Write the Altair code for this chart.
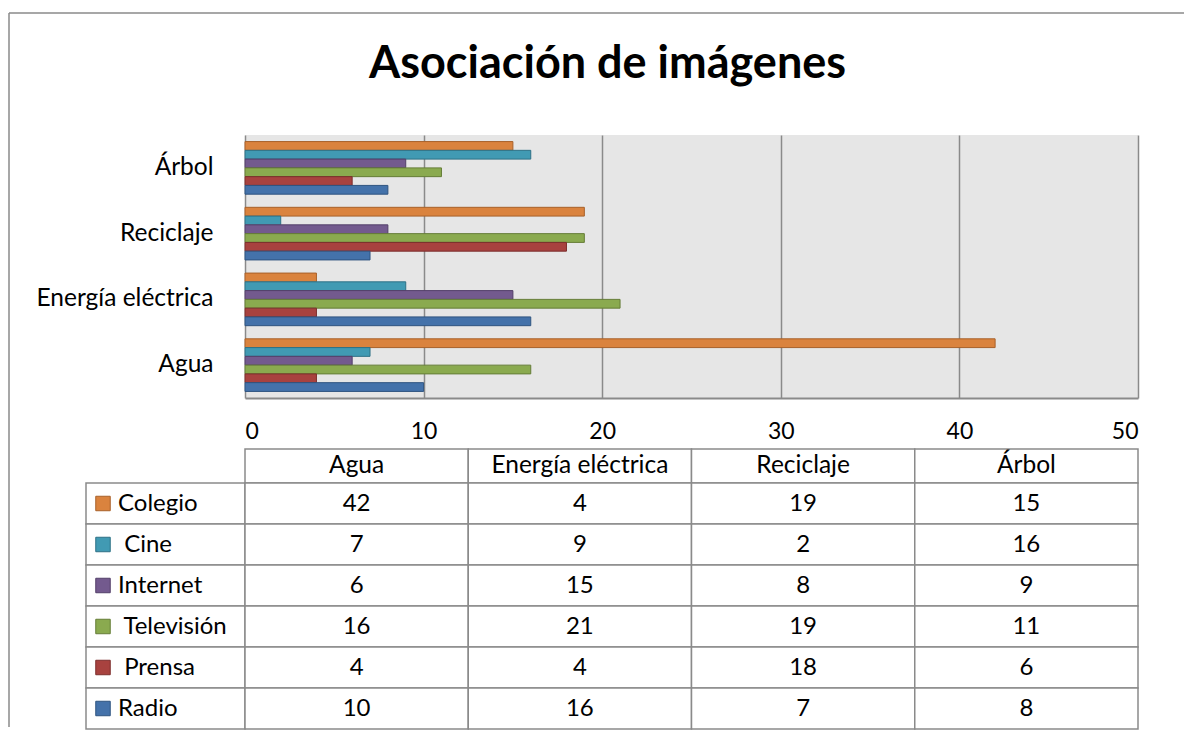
import altair as alt
import pandas as pd

title_text = "Asociación de imágenes"
categories = ["Agua", "Energía eléctrica", "Reciclaje", "Árbol"]
series = ["Colegio", "Cine", "Internet", "Televisión", "Prensa", "Radio"]
# the original row labels of Cine, Televisión and Prensa start with a space
series_labels = ["Colegio", "\u200b\u00a0Cine", "Internet", "\u200b\u00a0Televisión", "\u200b\u00a0Prensa", "Radio"]
colegio = [42, 4, 19, 15]
cine = [7, 9, 2, 16]
internet = [6, 15, 8, 9]
television = [16, 21, 19, 11]
prensa = [4, 4, 18, 6]
radio = [10, 16, 7, 8]
x_ticks = [0, 10, 20, 30, 40, 50]

fills = ["#DA833E", "#419AB3", "#735A8E", "#8AAA4F", "#A8423F", "#4472AA"]
strokes = ["#A8612A", "#2E7186", "#533F69", "#657D37", "#7C2E2C", "#2F5480"]
LINE = "#8a8a8a"
FONT = "Lato"
TXT = 24
TXT_L = 24.5

values_by_series = [colegio, cine, internet, television, prensa, radio]
rows = []
for s, vals in zip(series, values_by_series):
    for c, v in zip(categories, vals):
        rows.append({"series": s, "cat": c, "value": v})
long_df = pd.DataFrame(rows)
cat_df = pd.DataFrame({"cat": categories})
ser_df = pd.DataFrame({"series": series, "label": series_labels})
one = pd.DataFrame({"k": [0]})

fill_scale = alt.Scale(domain=series, range=fills)
stroke_scale = alt.Scale(domain=series, range=strokes)
no_view = alt.ViewBackground(stroke=None, fill=None)


def blank(w, h):
    return alt.Chart(one).mark_point(opacity=0).encode(
        x=alt.value(0), y=alt.value(0)
    ).properties(width=w, height=h, view=no_view)


# ---- frame (decorative outer border) drawn from the left spacer ----
frame_top = alt.Chart(one).mark_rule(color=LINE, strokeWidth=1.5).encode(
    x=alt.value(-77), x2=alt.value(1098), y=alt.value(-122)
)
frame_left = alt.Chart(one).mark_rule(color=LINE, strokeWidth=1.5).encode(
    x=alt.value(-77), y=alt.value(-122), y2=alt.value(592)
)
spacer = alt.layer(frame_top, frame_left).properties(width=159, height=263, view=no_view)

# ---- bar chart ----
bars = alt.Chart(long_df).mark_bar(strokeWidth=1).encode(
    x=alt.X(
        "value:Q",
        scale=alt.Scale(domain=[0, 50], nice=False),
        axis=alt.Axis(
            values=x_ticks, title=None, grid=True, gridColor=LINE, gridWidth=1.5,
            domain=True, domainColor=LINE, domainWidth=2, ticks=False, tickSize=0,
            labelPadding=22, labelFontSize=23, labelColor="black", labelFont=FONT,
        ),
    ),
    y=alt.Y(
        "cat:N",
        sort=categories[::-1],
        scale=alt.Scale(paddingInner=0.2, paddingOuter=0.1),
        axis=alt.Axis(
            title=None, ticks=False, tickSize=0, domain=False, labelPadding=32,
            labelFontSize=TXT_L, labelColor="black", labelFont=FONT,
        ),
    ),
    yOffset=alt.YOffset("series:N", sort=series, scale=alt.Scale(paddingInner=0, paddingOuter=0)),
    fill=alt.Fill("series:N", scale=fill_scale, legend=None),
    stroke=alt.Stroke("series:N", scale=stroke_scale, legend=None),
).properties(
    width=893,
    height=263,
    view=alt.ViewBackground(fill="#e6e6e6", stroke=None),
    title=alt.TitleParams(
        text=title_text, fontSize=45, fontWeight="bold", font=FONT, color="black",
        anchor="middle", frame="group", dx=-84, offset=12, baseline="alphabetic",
    ),
)

# ---- header row ----
xcat = alt.X("cat:N", sort=categories, axis=None, scale=alt.Scale(paddingInner=0, paddingOuter=0))
header = alt.layer(
    alt.Chart(cat_df).mark_rect(fill="white", stroke=LINE, strokeWidth=1.5).encode(x=xcat),
    alt.Chart(cat_df).mark_text(fontSize=TXT_L, font=FONT, color="black").encode(x=xcat, text="cat:N"),
).properties(width=893, height=34, view=no_view)

# ---- label column ----
yser = alt.Y("series:N", sort=series, axis=None, scale=alt.Scale(paddingInner=0, paddingOuter=0))
labels = alt.layer(
    alt.Chart(ser_df).mark_rect(fill="white", stroke=LINE, strokeWidth=1.5).encode(y=yser),
    alt.Chart(ser_df).mark_square(size=210, strokeWidth=1, opacity=1).encode(
        y=yser, x=alt.value(17),
        fill=alt.Fill("series:N", scale=fill_scale, legend=None),
        stroke=alt.Stroke("series:N", scale=stroke_scale, legend=None),
    ),
    alt.Chart(ser_df).mark_text(fontSize=TXT, font=FONT, color="black", align="left", dx=-47.5).encode(
        y=yser, text="label:N"
    ),
).properties(width=159, height=246, view=no_view)

# ---- data table ----
table = alt.layer(
    alt.Chart(long_df).mark_rect(fill="white", stroke=LINE, strokeWidth=1.5).encode(x=xcat, y=yser),
    alt.Chart(long_df).mark_text(fontSize=TXT, font=FONT, color="black").encode(
        x=xcat, y=yser, text="value:Q"
    ),
).properties(width=893, height=246, view=no_view)

chart = alt.concat(
    spacer, bars,
    blank(159, 51), blank(893, 51),
    blank(159, 34), header,
    labels, table,
    columns=2, spacing=0, bounds="flush", align="each",
).properties(
    padding={"left": 0, "top": 4, "right": 0, "bottom": 0}
).configure(font=FONT).configure_view(stroke=None)

chart.save("out.html", embed_options={"renderer": "svg", "actions": False})
